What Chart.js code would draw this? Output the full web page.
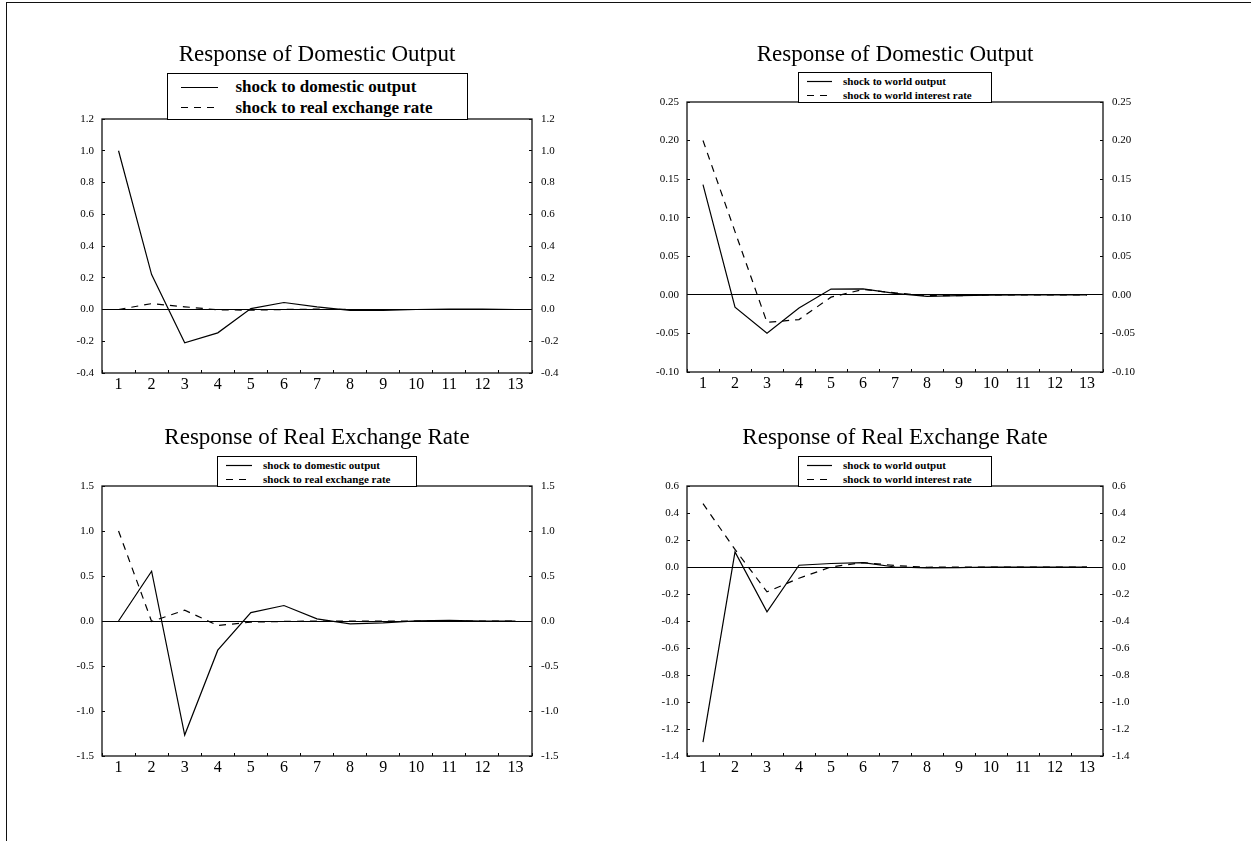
<!DOCTYPE html>
<html>
<head>
<meta charset="utf-8">
<script src="https://cdn.jsdelivr.net/npm/chart.js@4.4.1/dist/chart.umd.min.js"></script>
<style>
  body { margin: 0; background: #fff; width: 1251px; height: 841px; overflow: hidden; position: relative;
         font-family: "Liberation Serif", "Times New Roman", serif; }
  .frame { position: absolute; left: 6px; top: 2px; width: 1300px; height: 900px;
           border-top: 1.5px solid #111; border-left: 1.5px solid #111; }
  canvas { position: absolute; }
  .legend { position: absolute; box-sizing: border-box; border: 1px solid #000; background: #fff;
            font-weight: bold; color: #000; }
  .legend .row { position: absolute; left: 0; right: 0; white-space: nowrap; }
  .legend svg, .legend span { position: absolute; }
</style>
</head>
<body>
<div class="frame"></div>
<script>
// -------------------------------------------------
// DATA — impulse responses, periods 1..13
// -------------------------------------------------
const periods = ['1', '2', '3', '4', '5', '6', '7', '8', '9', '10', '11', '12', '13'];

const domLabels   = ['shock to domestic output', 'shock to real exchange rate'];
const worldLabels = ['shock to world output', 'shock to world interest rate'];

// Response of domestic output
const outDomOutput   = [1.0, 0.22, -0.21, -0.147, 0.006, 0.044, 0.017, -0.005, -0.006, 0.0, 0.003, 0.003, 0.0];
const outDomRer      = [0.0, 0.037, 0.017, -0.002, -0.004, 0.0, 0.002, 0.0, 0.0, 0.0, 0.0, 0.0, 0.0];
const outWorldOutput = [0.143, -0.016, -0.0496, -0.017, 0.0075, 0.0078, 0.002, -0.002, -0.001, -0.0005, 0.0, 0.0, 0.0];
const outWorldRate   = [0.2, 0.082, -0.0357, -0.032, -0.003, 0.007, 0.0026, -0.001, -0.001, 0.0, 0.0, 0.0, 0.0];

// Response of real exchange rate
const rerDomOutput   = [0.0, 0.553, -1.267, -0.324, 0.094, 0.172, 0.024, -0.031, -0.02, 0.002, 0.008, 0.0, 0.0];
const rerDomRer      = [1.0, -0.005, 0.12, -0.05, -0.013, -0.005, 0.0, 0.0, 0.0, 0.0, 0.0, 0.0, 0.0];
const rerWorldOutput = [-1.297, 0.112, -0.332, 0.013, 0.026, 0.033, 0.0, -0.007, -0.004, 0.0, 0.0, 0.0, 0.0];
const rerWorldRate   = [0.469, 0.13, -0.184, -0.083, 0.0, 0.033, 0.011, -0.002, 0.0, 0.0, 0.0, 0.0, 0.0];

// y axis: [min, max, step, decimals]
const yOutDom   = [-0.4, 1.2, 0.2, 1];
const yOutWorld = [-0.10, 0.25, 0.05, 2];
const yRerDom   = [-1.5, 1.5, 0.5, 1];
const yRerWorld = [-1.4, 0.6, 0.2, 1];

const SERIF = '"Liberation Serif", "Times New Roman", serif';
Chart.defaults.font.family = SERIF;
Chart.defaults.color = '#000';

const DASH = [7, 6];
const TITLE_SIZE = 23;

// box legends: sizes/positions inside the box
const BIG_LEG   = { w: 301, h: 47, font: 17, rows: [13.5, 34], sx: 13, sw: 37, tx: 68 };
const SMALL_LEG = { w: 194, h: 31, font: 11, rows: [9, 23], sx: 8, sw: 25, tx: 44 };
const MID_LEG   = { w: 200, h: 31, font: 11, rows: [9, 23], sx: 8, sw: 26, tx: 45 };

const panels = [
  { title: 'Response of Domestic Output', names: domLabels, series: [outDomOutput, outDomRer], y: yOutDom,
    area: { l: 102, r: 532, t: 119, b: 373 }, titleY: 55, leg: BIG_LEG },
  { title: 'Response of Domestic Output', names: worldLabels, series: [outWorldOutput, outWorldRate], y: yOutWorld,
    area: { l: 687, r: 1103, t: 102, b: 372 }, titleY: 55, leg: SMALL_LEG },
  { title: 'Response of Real Exchange Rate', names: domLabels, series: [rerDomOutput, rerDomRer], y: yRerDom,
    area: { l: 102, r: 532, t: 486, b: 756 }, titleY: 438, leg: MID_LEG },
  { title: 'Response of Real Exchange Rate', names: worldLabels, series: [rerWorldOutput, rerWorldRate], y: yRerWorld,
    area: { l: 687, r: 1103, t: 486, b: 756 }, titleY: 438, leg: SMALL_LEG },
];

// frame round the plot area
const frameBox = {
  id: 'frameBox',
  afterDatasetsDraw(chart) {
    const { ctx, chartArea: a } = chart;
    ctx.save();
    ctx.strokeStyle = '#111';
    ctx.lineWidth = 1.3;
    ctx.strokeRect(a.left, a.top, a.right - a.left, a.bottom - a.top);
    ctx.restore();
  }
};

function yScale(pos, range, onArea) {
  const [min, max, step, dec] = range;
  return {
    position: pos, min, max,
    ticks: {
      stepSize: step,
      callback: v => (Math.abs(v) < 1e-9 ? 0 : v).toFixed(dec),
      font: { size: 11 },
      padding: pos === 'left' ? 11 : 12
    },
    grid: {
      drawOnChartArea: onArea,
      color: ctx => Math.abs(ctx.tick.value) < 1e-9 ? '#000' : 'rgba(0,0,0,0)',
      tickColor: '#000', tickLength: -3, lineWidth: 1
    },
    border: { display: false },
    afterFit: s => { s.width = 50; }
  };
}

function renderPanel(p) {
  const a = p.area;
  const left = a.l - 55, width = a.r - a.l + 110;
  const top = a.t - 100, height = a.b - a.t + 135;
  const cv = document.createElement('canvas');
  cv.width = width; cv.height = height;
  Object.assign(cv.style, { left: left + 'px', top: top + 'px', width: width + 'px', height: height + 'px' });
  document.body.appendChild(cv);

  const lh = TITLE_SIZE * 1.2;
  const padTop = p.titleY - top - lh / 2;

  const chart = new Chart(cv, {
    type: 'line',
    data: {
      labels: periods,
      datasets: p.series.map((s, i) => ({
        label: p.names[i],
        data: s,
        borderColor: '#000',
        borderWidth: 1.2,
        borderDash: i ? DASH : [],
        pointRadius: 0,
        tension: 0,
        fill: false
      }))
    },
    options: {
      responsive: false,
      animation: false,
      devicePixelRatio: 1,
      layout: { padding: { left: 5, right: 5, top: 0, bottom: 5 } },
      plugins: {
        legend: { display: false },
        tooltip: { enabled: false },
        title: {
          display: true, text: p.title, color: '#000',
          font: { size: TITLE_SIZE, weight: 'normal', lineHeight: 1.2 },
          padding: { top: padTop, bottom: 100 - padTop - lh }
        }
      },
      scales: {
        x: {
          offset: true,
          grid: { offset: true, drawOnChartArea: false, tickColor: '#000', tickLength: -3 },
          border: { display: false },
          ticks: { font: { size: 16 }, padding: 5, maxRotation: 0, autoSkip: false },
          afterFit: s => { s.height = 30; }
        },
        y: yScale('left', p.y, true),
        y2: yScale('right', p.y, false)
      }
    },
    plugins: [frameBox]
  });

  addLegend(chart, left, top, p.leg);
}

// box legend above the plot, built from the chart's datasets
function addLegend(chart, cvLeft, cvTop, spec) {
  const ca = chart.chartArea;
  const cx = cvLeft + (ca.left + ca.right) / 2;
  const box = document.createElement('div');
  box.className = 'legend';
  Object.assign(box.style, {
    left: (cx - spec.w / 2) + 'px', top: (cvTop + ca.top - spec.h + 1) + 'px',
    width: spec.w + 'px', height: spec.h + 'px', fontSize: spec.font + 'px'
  });
  const rowH = spec.font * 1.2;
  chart.data.datasets.forEach((ds, i) => {
    const row = document.createElement('div');
    row.className = 'row';
    Object.assign(row.style, { top: (spec.rows[i] - rowH / 2) + 'px', height: rowH + 'px', lineHeight: rowH + 'px' });
    const dash = ds.borderDash.length ? ` stroke-dasharray="${ds.borderDash.join(' ')}"` : '';
    row.innerHTML =
      `<svg width="${spec.sw}" height="3" style="left:${spec.sx}px;top:${rowH / 2 - 1.5}px">` +
      `<line x1="0" y1="1.5" x2="${spec.sw}" y2="1.5" stroke="#000" stroke-width="1.2"${dash}/></svg>` +
      `<span style="left:${spec.tx}px;top:0">${ds.label}</span>`;
    box.appendChild(row);
  });
  document.body.appendChild(box);
}

panels.forEach(renderPanel);
</script>
</body>
</html>
